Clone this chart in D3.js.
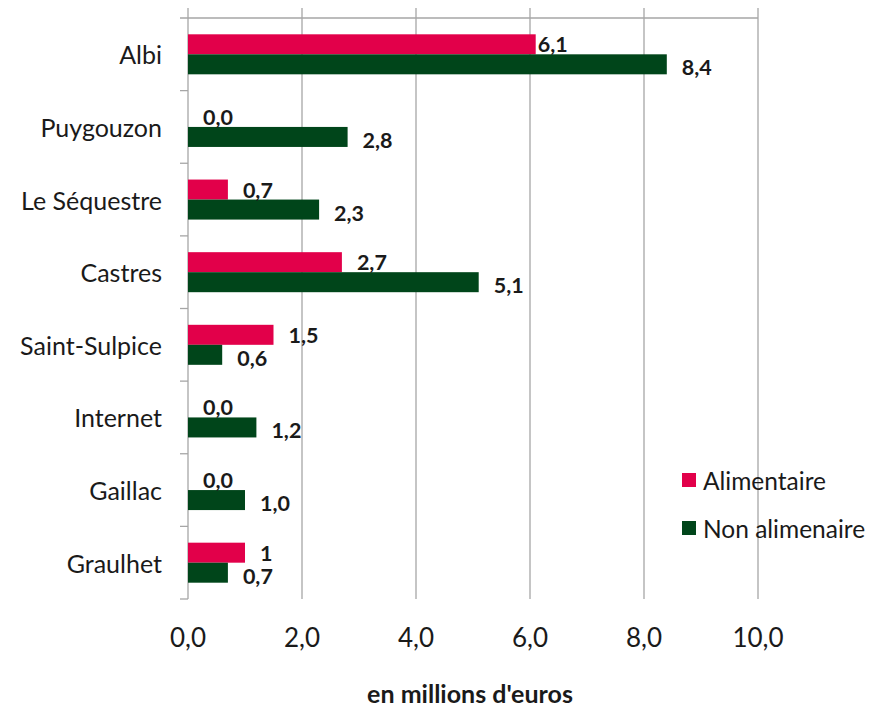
<!DOCTYPE html>
<html>
<head>
<meta charset="utf-8">
<script src="https://cdn.jsdelivr.net/npm/d3@7"></script>
<style>
  body { margin: 0; background: #fff; }
  text { font-family: Lato, "Open Sans", sans-serif; fill: #1a1a1a; }
</style>
</head>
<body>
<div id="chart"></div>
<script>
// data
var cities = ["Albi", "Puygouzon", "Le Séquestre", "Castres", "Saint-Sulpice", "Internet", "Gaillac", "Graulhet"];
var seriesNames = ["Alimentaire", "Non alimenaire"];
var alimentaire = [6.1, 0.0, 0.7, 2.7, 1.5, 0.0, 0.0, 1.0];
var nonAlimentaire = [8.4, 2.8, 2.3, 5.1, 0.6, 1.2, 1.0, 0.7];
var alimentaireLabels = ["6,1", "0,0", "0,7", "2,7", "1,5", "0,0", "0,0", "1"];
var nonAlimentaireLabels = ["8,4", "2,8", "2,3", "5,1", "0,6", "1,2", "1,0", "0,7"];
var xTicks = [0, 2, 4, 6, 8, 10];
var axisTitle = "en millions d'euros";

var width = 883;
var height = 709;
var colors = {"Alimentaire": "#e2004a", "Non alimenaire": "#00451a"};
var gridColor = "#a6a6a6";

var svg = d3.select("#chart")
    .append("svg")
    .attr("width", width)
    .attr("height", height);

// scales
var x = d3.scaleLinear().domain([0, 10]).range([188, 758]);
var y = d3.scaleBand().domain(cities).range([18, 599]);
var y1 = d3.scaleBand().domain(seriesNames).range([0, y.bandwidth()]).paddingOuter(0.815);

// build rows from the arrays
var rows = cities.map(function (c, i) {
    return [
        {city: c, series: seriesNames[0], value: alimentaire[i], label: alimentaireLabels[i]},
        {city: c, series: seriesNames[1], value: nonAlimentaire[i], label: nonAlimentaireLabels[i]}
    ];
});
var flat = [].concat.apply([], rows);

// vertical gridlines + top value axis ticks
svg.append("g")
    .selectAll("line")
    .data(xTicks.slice(1))
    .enter()
    .append("line")
    .attr("x1", function (d) { return x(d); })
    .attr("x2", function (d) { return x(d); })
    .attr("y1", 8)
    .attr("y2", 599)
    .attr("stroke", gridColor)
    .attr("stroke-width", 1.3);

// top axis line
svg.append("line")
    .attr("x1", 180).attr("x2", x(10))
    .attr("y1", 18).attr("y2", 18)
    .attr("stroke", gridColor)
    .attr("stroke-width", 1.3);

// left category axis
svg.append("line")
    .attr("x1", x(0)).attr("x2", x(0))
    .attr("y1", 8).attr("y2", 599)
    .attr("stroke", gridColor)
    .attr("stroke-width", 1.3);

var boundaries = cities.map(function (c) { return y(c); }).concat([y.range()[1]]);
svg.append("g")
    .selectAll("line")
    .data(boundaries.slice(1))
    .enter()
    .append("line")
    .attr("x1", 180).attr("x2", x(0))
    .attr("y1", function (d) { return d; })
    .attr("y2", function (d) { return d; })
    .attr("stroke", gridColor)
    .attr("stroke-width", 1.3);

// bars
svg.append("g")
    .selectAll("rect")
    .data(flat)
    .enter()
    .append("rect")
    .attr("x", x(0))
    .attr("y", function (d) { return y(d.city) + y1(d.series); })
    .attr("width", function (d) { return x(d.value) - x(0); })
    .attr("height", y1.bandwidth())
    .attr("fill", function (d) { return colors[d.series]; });

// value labels (Albi alimentaire label was pulled in close to its bar)
var labelGap = 15;
svg.append("g")
    .selectAll("text")
    .data(flat)
    .enter()
    .append("text")
    .attr("x", function (d) {
        var gap = (d.city == "Albi" && d.series == "Alimentaire") ? 2 : labelGap;
        return x(d.value) + gap;
    })
    .attr("y", function (d) {
        var shift = d.series == "Alimentaire" ? 0 : 3;
        return y(d.city) + y1(d.series) + y1.bandwidth() / 2 + shift;
    })
    .attr("dominant-baseline", "central")
    .style("font-size", "21.5px")
    .style("font-weight", "bold")
    .text(function (d) { return d.label; });

// category labels
svg.append("g")
    .selectAll("text")
    .data(cities)
    .enter()
    .append("text")
    .attr("x", 162)
    .attr("y", function (d) { return y(d) + y.bandwidth() / 2; })
    .attr("text-anchor", "end")
    .attr("dominant-baseline", "central")
    .style("font-size", "25px")
    .text(function (d) { return d; });

// x tick labels
svg.append("g")
    .selectAll("text")
    .data(xTicks)
    .enter()
    .append("text")
    .attr("x", function (d) { return x(d); })
    .attr("y", 637)
    .attr("text-anchor", "middle")
    .attr("dominant-baseline", "central")
    .style("font-size", "26px")
    .text(function (d) { return d3.format(".1f")(d).replace(".", ","); });

// axis title
svg.append("text")
    .attr("x", 470)
    .attr("y", 693)
    .attr("text-anchor", "middle")
    .attr("dominant-baseline", "central")
    .style("font-size", "25px")
    .style("font-weight", "bold")
    .text(axisTitle);

// legend
var legend = svg.append("g")
    .selectAll("g")
    .data(seriesNames)
    .enter()
    .append("g")
    .attr("transform", function (d, i) { return "translate(682," + (480 + i * 48) + ")"; });

legend.append("rect")
    .attr("x", 0)
    .attr("y", -7)
    .attr("width", 14)
    .attr("height", 14)
    .attr("fill", function (d) { return colors[d]; });

legend.append("text")
    .attr("x", 21)
    .attr("y", 0)
    .attr("dominant-baseline", "central")
    .style("font-size", "24.5px")
    .text(function (d) { return d; });
</script>
</body>
</html>
